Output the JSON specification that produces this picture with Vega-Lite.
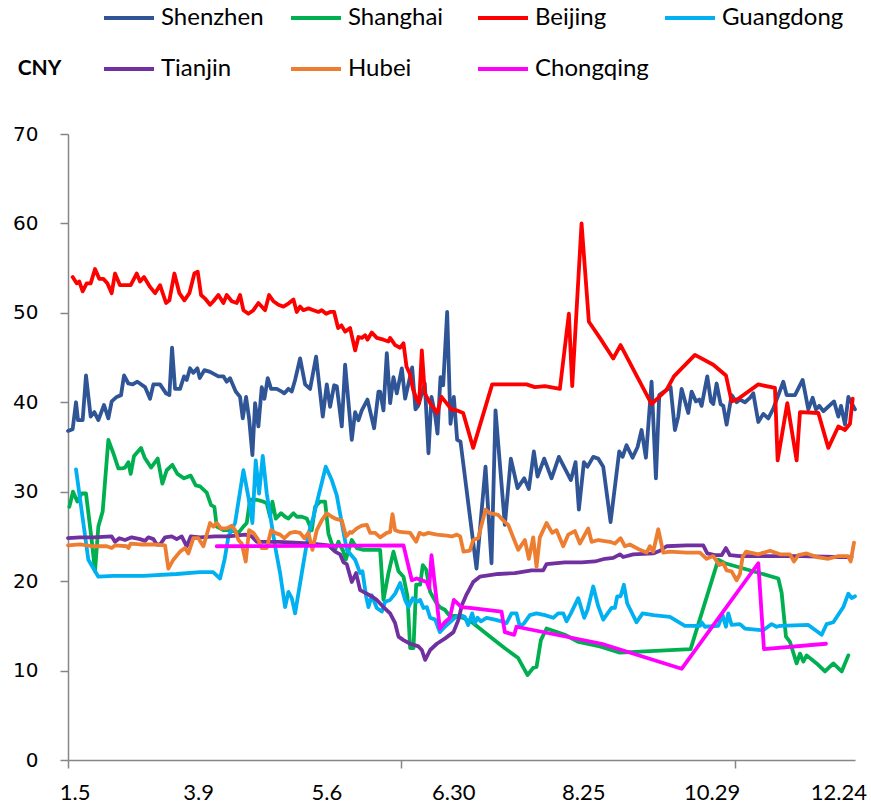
{
"$schema": "https://vega.github.io/schema/vega-lite/v6.json",
"width": 787, "height": 626,
"autosize": {"type": "none"},
"padding": {"left": 68, "top": 134, "right": 16, "bottom": 50},
"background": "white",
"config": {"view": {"stroke": null}, "font": "Lato"},
"data": {"values": [
{"c":"Shenzhen","t":0,"v":36.8},{"c":"Shenzhen","t":1.4,"v":37.0},{"c":"Shenzhen","t":2.4,"v":40.0},{"c":"Shenzhen","t":3,"v":38.0},{"c":"Shenzhen","t":4.4,"v":38.0},{"c":"Shenzhen","t":5.4,"v":43.0},{"c":"Shenzhen","t":6.8,"v":38.4},{"c":"Shenzhen","t":7.9,"v":38.9},{"c":"Shenzhen","t":9.1,"v":38.0},{"c":"Shenzhen","t":10.8,"v":39.7},{"c":"Shenzhen","t":12.1,"v":38.2},{"c":"Shenzhen","t":13.1,"v":40.1},{"c":"Shenzhen","t":14.6,"v":40.6},{"c":"Shenzhen","t":15.9,"v":40.8},{"c":"Shenzhen","t":16.8,"v":43.0},{"c":"Shenzhen","t":18.1,"v":42.1},{"c":"Shenzhen","t":19.4,"v":42.0},{"c":"Shenzhen","t":20.8,"v":42.3},{"c":"Shenzhen","t":23.1,"v":41.7},{"c":"Shenzhen","t":24.6,"v":40.4},{"c":"Shenzhen","t":25.6,"v":42.0},{"c":"Shenzhen","t":27.6,"v":42.0},{"c":"Shenzhen","t":29.4,"v":41.0},{"c":"Shenzhen","t":30.4,"v":40.8},{"c":"Shenzhen","t":31.2,"v":46.1},{"c":"Shenzhen","t":32.1,"v":41.5},{"c":"Shenzhen","t":33.6,"v":41.5},{"c":"Shenzhen","t":34.8,"v":42.9},{"c":"Shenzhen","t":35.6,"v":42.5},{"c":"Shenzhen","t":36.6,"v":43.8},{"c":"Shenzhen","t":37.6,"v":43.3},{"c":"Shenzhen","t":38.8,"v":43.8},{"c":"Shenzhen","t":39.5,"v":42.7},{"c":"Shenzhen","t":40.9,"v":43.6},{"c":"Shenzhen","t":42.6,"v":43.4},{"c":"Shenzhen","t":45.1,"v":42.9},{"c":"Shenzhen","t":46.6,"v":42.9},{"c":"Shenzhen","t":47.6,"v":42.3},{"c":"Shenzhen","t":48.6,"v":42.7},{"c":"Shenzhen","t":50.3,"v":41.2},{"c":"Shenzhen","t":51.6,"v":40.6},{"c":"Shenzhen","t":52.4,"v":38.2},{"c":"Shenzhen","t":53.4,"v":40.6},{"c":"Shenzhen","t":54.3,"v":38.2},{"c":"Shenzhen","t":55.3,"v":34.1},{"c":"Shenzhen","t":56.1,"v":39.9},{"c":"Shenzhen","t":57.1,"v":37.3},{"c":"Shenzhen","t":58.1,"v":41.7},{"c":"Shenzhen","t":58.9,"v":40.4},{"c":"Shenzhen","t":59.9,"v":42.7},{"c":"Shenzhen","t":60.9,"v":41.5},{"c":"Shenzhen","t":62.6,"v":41.5},{"c":"Shenzhen","t":64.1,"v":41.2},{"c":"Shenzhen","t":64.9,"v":41.0},{"c":"Shenzhen","t":66.1,"v":41.5},{"c":"Shenzhen","t":67.1,"v":41.2},{"c":"Shenzhen","t":68.1,"v":42.5},{"c":"Shenzhen","t":69.6,"v":44.9},{"c":"Shenzhen","t":71.1,"v":42.0},{"c":"Shenzhen","t":72.6,"v":41.5},{"c":"Shenzhen","t":74.4,"v":45.1},{"c":"Shenzhen","t":76.4,"v":38.4},{"c":"Shenzhen","t":77.6,"v":42.0},{"c":"Shenzhen","t":78.6,"v":39.5},{"c":"Shenzhen","t":79.8,"v":41.9},{"c":"Shenzhen","t":80.6,"v":41.8},{"c":"Shenzhen","t":82.1,"v":37.3},{"c":"Shenzhen","t":83.1,"v":44.2},{"c":"Shenzhen","t":85.1,"v":35.8},{"c":"Shenzhen","t":86.1,"v":38.9},{"c":"Shenzhen","t":87.1,"v":38.0},{"c":"Shenzhen","t":88.1,"v":39.1},{"c":"Shenzhen","t":89.8,"v":40.3},{"c":"Shenzhen","t":91.8,"v":37.1},{"c":"Shenzhen","t":93.1,"v":41.2},{"c":"Shenzhen","t":93.6,"v":41.2},{"c":"Shenzhen","t":94.6,"v":39.1},{"c":"Shenzhen","t":95.6,"v":45.5},{"c":"Shenzhen","t":96.6,"v":39.9},{"c":"Shenzhen","t":97.6,"v":42.8},{"c":"Shenzhen","t":98.6,"v":41.0},{"c":"Shenzhen","t":100.1,"v":43.8},{"c":"Shenzhen","t":101.1,"v":40.4},{"c":"Shenzhen","t":103.2,"v":43.9},{"c":"Shenzhen","t":104.2,"v":39.2},{"c":"Shenzhen","t":105,"v":39.6},{"c":"Shenzhen","t":107,"v":42.1},{"c":"Shenzhen","t":108.1,"v":34.3},{"c":"Shenzhen","t":109,"v":40.6},{"c":"Shenzhen","t":110,"v":38.8},{"c":"Shenzhen","t":110.8,"v":36.5},{"c":"Shenzhen","t":111.7,"v":42.8},{"c":"Shenzhen","t":112.5,"v":41.9},{"c":"Shenzhen","t":113.7,"v":50.1},{"c":"Shenzhen","t":114.7,"v":37.6},{"c":"Shenzhen","t":115.7,"v":40.6},{"c":"Shenzhen","t":116.7,"v":35.8},{"c":"Shenzhen","t":117.7,"v":35.6},{"c":"Shenzhen","t":122.5,"v":21.4},{"c":"Shenzhen","t":125.2,"v":32.8},{"c":"Shenzhen","t":127,"v":22.0},{"c":"Shenzhen","t":128.2,"v":39.1},{"c":"Shenzhen","t":131,"v":26.3},{"c":"Shenzhen","t":132.8,"v":33.7},{"c":"Shenzhen","t":134.8,"v":30.4},{"c":"Shenzhen","t":136.8,"v":31.5},{"c":"Shenzhen","t":138.2,"v":30.3},{"c":"Shenzhen","t":139.7,"v":34.5},{"c":"Shenzhen","t":140.8,"v":31.7},{"c":"Shenzhen","t":142.8,"v":33.7},{"c":"Shenzhen","t":145,"v":31.5},{"c":"Shenzhen","t":147.2,"v":33.9},{"c":"Shenzhen","t":150.8,"v":31.3},{"c":"Shenzhen","t":152.2,"v":33.3},{"c":"Shenzhen","t":153.2,"v":28.0},{"c":"Shenzhen","t":154.7,"v":33.3},{"c":"Shenzhen","t":155.8,"v":32.8},{"c":"Shenzhen","t":157.5,"v":33.9},{"c":"Shenzhen","t":159,"v":33.7},{"c":"Shenzhen","t":160.5,"v":32.8},{"c":"Shenzhen","t":162.7,"v":26.6},{"c":"Shenzhen","t":165.3,"v":34.5},{"c":"Shenzhen","t":166.3,"v":33.9},{"c":"Shenzhen","t":167.5,"v":35.2},{"c":"Shenzhen","t":169.3,"v":33.8},{"c":"Shenzhen","t":170.8,"v":35.0},{"c":"Shenzhen","t":172,"v":36.9},{"c":"Shenzhen","t":173.3,"v":33.8},{"c":"Shenzhen","t":175,"v":42.3},{"c":"Shenzhen","t":176.3,"v":31.5},{"c":"Shenzhen","t":177.3,"v":40.8},{"c":"Shenzhen","t":179.5,"v":41.4},{"c":"Shenzhen","t":180.7,"v":41.7},{"c":"Shenzhen","t":182,"v":36.9},{"c":"Shenzhen","t":183,"v":38.4},{"c":"Shenzhen","t":184,"v":41.5},{"c":"Shenzhen","t":186,"v":38.8},{"c":"Shenzhen","t":187,"v":41.2},{"c":"Shenzhen","t":188.3,"v":40.1},{"c":"Shenzhen","t":189.3,"v":40.3},{"c":"Shenzhen","t":190,"v":39.6},{"c":"Shenzhen","t":191.7,"v":42.9},{"c":"Shenzhen","t":192.8,"v":40.1},{"c":"Shenzhen","t":193.5,"v":39.8},{"c":"Shenzhen","t":194.5,"v":42.1},{"c":"Shenzhen","t":195.7,"v":39.8},{"c":"Shenzhen","t":196.5,"v":39.6},{"c":"Shenzhen","t":197.5,"v":37.5},{"c":"Shenzhen","t":199,"v":40.8},{"c":"Shenzhen","t":200.5,"v":40.0},{"c":"Shenzhen","t":201.5,"v":40.3},{"c":"Shenzhen","t":203,"v":40.0},{"c":"Shenzhen","t":204.5,"v":40.5},{"c":"Shenzhen","t":205.5,"v":41.0},{"c":"Shenzhen","t":207,"v":37.8},{"c":"Shenzhen","t":208.5,"v":38.7},{"c":"Shenzhen","t":210,"v":38.2},{"c":"Shenzhen","t":211.5,"v":39.3},{"c":"Shenzhen","t":214.5,"v":42.3},{"c":"Shenzhen","t":215.5,"v":40.8},{"c":"Shenzhen","t":218,"v":40.8},{"c":"Shenzhen","t":220.3,"v":42.5},{"c":"Shenzhen","t":222,"v":39.2},{"c":"Shenzhen","t":223.3,"v":40.5},{"c":"Shenzhen","t":224.3,"v":39.2},{"c":"Shenzhen","t":225.3,"v":39.6},{"c":"Shenzhen","t":226.5,"v":39.0},{"c":"Shenzhen","t":229.7,"v":40.1},{"c":"Shenzhen","t":231,"v":38.4},{"c":"Shenzhen","t":231.8,"v":39.6},{"c":"Shenzhen","t":233,"v":37.5},{"c":"Shenzhen","t":234,"v":40.6},{"c":"Shenzhen","t":236,"v":39.2},
{"c":"Shanghai","t":0.4,"v":28.3},{"c":"Shanghai","t":1.5,"v":30.0},{"c":"Shanghai","t":2.8,"v":28.9},{"c":"Shanghai","t":4.1,"v":29.8},{"c":"Shanghai","t":5.4,"v":29.8},{"c":"Shanghai","t":7.1,"v":24.6},{"c":"Shanghai","t":8.1,"v":21.1},{"c":"Shanghai","t":9.1,"v":26.1},{"c":"Shanghai","t":10.4,"v":27.8},{"c":"Shanghai","t":12.1,"v":35.8},{"c":"Shanghai","t":13.6,"v":34.3},{"c":"Shanghai","t":15.1,"v":32.6},{"c":"Shanghai","t":16.1,"v":32.6},{"c":"Shanghai","t":17.1,"v":32.7},{"c":"Shanghai","t":18.1,"v":33.3},{"c":"Shanghai","t":18.8,"v":32.0},{"c":"Shanghai","t":19.8,"v":34.0},{"c":"Shanghai","t":21.9,"v":34.9},{"c":"Shanghai","t":23,"v":33.8},{"c":"Shanghai","t":24.9,"v":32.7},{"c":"Shanghai","t":26.9,"v":33.7},{"c":"Shanghai","t":28.3,"v":30.9},{"c":"Shanghai","t":29.6,"v":32.4},{"c":"Shanghai","t":31.3,"v":33.0},{"c":"Shanghai","t":32.8,"v":32.0},{"c":"Shanghai","t":34.8,"v":31.5},{"c":"Shanghai","t":36.8,"v":31.8},{"c":"Shanghai","t":38.3,"v":30.7},{"c":"Shanghai","t":39.6,"v":30.6},{"c":"Shanghai","t":41.6,"v":29.9},{"c":"Shanghai","t":42.9,"v":28.5},{"c":"Shanghai","t":43.9,"v":28.3},{"c":"Shanghai","t":44.6,"v":26.1},{"c":"Shanghai","t":46.6,"v":25.7},{"c":"Shanghai","t":48.1,"v":25.7},{"c":"Shanghai","t":49.6,"v":25.6},{"c":"Shanghai","t":51.1,"v":25.4},{"c":"Shanghai","t":52.6,"v":26.1},{"c":"Shanghai","t":53.6,"v":26.5},{"c":"Shanghai","t":54.6,"v":29.1},{"c":"Shanghai","t":56.6,"v":29.1},{"c":"Shanghai","t":58.6,"v":28.9},{"c":"Shanghai","t":59.6,"v":28.7},{"c":"Shanghai","t":60.6,"v":27.2},{"c":"Shanghai","t":61.3,"v":28.9},{"c":"Shanghai","t":62.3,"v":27.0},{"c":"Shanghai","t":63.9,"v":27.6},{"c":"Shanghai","t":65.1,"v":27.2},{"c":"Shanghai","t":66.1,"v":27.0},{"c":"Shanghai","t":67.6,"v":27.6},{"c":"Shanghai","t":68.6,"v":27.2},{"c":"Shanghai","t":70.1,"v":27.2},{"c":"Shanghai","t":71.6,"v":27.0},{"c":"Shanghai","t":73.1,"v":25.7},{"c":"Shanghai","t":74.1,"v":28.3},{"c":"Shanghai","t":75.6,"v":28.9},{"c":"Shanghai","t":77.1,"v":28.9},{"c":"Shanghai","t":78.1,"v":25.3},{"c":"Shanghai","t":79.1,"v":24.2},{"c":"Shanghai","t":80.1,"v":23.5},{"c":"Shanghai","t":81.1,"v":24.4},{"c":"Shanghai","t":82.6,"v":23.3},{"c":"Shanghai","t":83.3,"v":22.4},{"c":"Shanghai","t":85.1,"v":24.6},{"c":"Shanghai","t":86.6,"v":23.7},{"c":"Shanghai","t":88.6,"v":23.5},{"c":"Shanghai","t":93.6,"v":23.5},{"c":"Shanghai","t":94.6,"v":17.9},{"c":"Shanghai","t":96.1,"v":20.9},{"c":"Shanghai","t":97.6,"v":23.3},{"c":"Shanghai","t":99.1,"v":21.1},{"c":"Shanghai","t":100.6,"v":20.5},{"c":"Shanghai","t":101.8,"v":18.3},{"c":"Shanghai","t":102.6,"v":12.5},{"c":"Shanghai","t":103.6,"v":12.5},{"c":"Shanghai","t":104.4,"v":19.6},{"c":"Shanghai","t":105.6,"v":19.6},{"c":"Shanghai","t":106.4,"v":21.8},{"c":"Shanghai","t":107.4,"v":21.3},{"c":"Shanghai","t":108.6,"v":18.8},{"c":"Shanghai","t":110.4,"v":17.6},{"c":"Shanghai","t":111.5,"v":17.1},{"c":"Shanghai","t":113,"v":16.8},{"c":"Shanghai","t":114.5,"v":16.1},{"c":"Shanghai","t":116.5,"v":16.1},{"c":"Shanghai","t":118.5,"v":15.9},{"c":"Shanghai","t":121.5,"v":15.3},{"c":"Shanghai","t":126.5,"v":13.8},{"c":"Shanghai","t":131,"v":12.5},{"c":"Shanghai","t":135,"v":11.4},{"c":"Shanghai","t":137.8,"v":9.5},{"c":"Shanghai","t":139.5,"v":10.3},{"c":"Shanghai","t":140.5,"v":10.4},{"c":"Shanghai","t":141.8,"v":13.4},{"c":"Shanghai","t":143.5,"v":14.7},{"c":"Shanghai","t":149,"v":14.0},{"c":"Shanghai","t":153.1,"v":13.2},{"c":"Shanghai","t":159.5,"v":12.7},{"c":"Shanghai","t":165.5,"v":12.0},{"c":"Shanghai","t":186.7,"v":12.4},{"c":"Shanghai","t":195,"v":22.4},{"c":"Shanghai","t":197,"v":22.0},{"c":"Shanghai","t":213,"v":20.3},{"c":"Shanghai","t":214,"v":18.7},{"c":"Shanghai","t":215.3,"v":13.8},{"c":"Shanghai","t":216.5,"v":13.2},{"c":"Shanghai","t":218.5,"v":10.8},{"c":"Shanghai","t":219.5,"v":11.9},{"c":"Shanghai","t":220.5,"v":11.0},{"c":"Shanghai","t":221.5,"v":11.7},{"c":"Shanghai","t":224.5,"v":10.8},{"c":"Shanghai","t":227,"v":9.9},{"c":"Shanghai","t":229.5,"v":10.8},{"c":"Shanghai","t":232,"v":9.9},{"c":"Shanghai","t":234,"v":11.7},
{"c":"Beijing","t":1.4,"v":54.0},{"c":"Beijing","t":2.6,"v":53.3},{"c":"Beijing","t":3.4,"v":53.5},{"c":"Beijing","t":4.4,"v":52.4},{"c":"Beijing","t":5.6,"v":53.3},{"c":"Beijing","t":6.8,"v":53.3},{"c":"Beijing","t":8.1,"v":54.9},{"c":"Beijing","t":9.4,"v":53.8},{"c":"Beijing","t":10.6,"v":53.8},{"c":"Beijing","t":11.8,"v":53.3},{"c":"Beijing","t":13.1,"v":52.2},{"c":"Beijing","t":14.1,"v":54.4},{"c":"Beijing","t":15.6,"v":53.1},{"c":"Beijing","t":18.8,"v":53.1},{"c":"Beijing","t":20.6,"v":54.4},{"c":"Beijing","t":21.6,"v":53.5},{"c":"Beijing","t":22.8,"v":54.0},{"c":"Beijing","t":24.6,"v":52.9},{"c":"Beijing","t":26.1,"v":52.2},{"c":"Beijing","t":27.6,"v":53.1},{"c":"Beijing","t":29.4,"v":51.1},{"c":"Beijing","t":30.4,"v":51.4},{"c":"Beijing","t":31.9,"v":54.4},{"c":"Beijing","t":33.4,"v":52.2},{"c":"Beijing","t":34.9,"v":51.4},{"c":"Beijing","t":36.4,"v":52.2},{"c":"Beijing","t":37.9,"v":54.4},{"c":"Beijing","t":38.9,"v":54.6},{"c":"Beijing","t":39.9,"v":52.0},{"c":"Beijing","t":41.1,"v":51.6},{"c":"Beijing","t":42.6,"v":50.9},{"c":"Beijing","t":43.6,"v":51.3},{"c":"Beijing","t":45.1,"v":52.0},{"c":"Beijing","t":46.6,"v":51.1},{"c":"Beijing","t":47.6,"v":52.0},{"c":"Beijing","t":49.1,"v":51.3},{"c":"Beijing","t":50.6,"v":51.1},{"c":"Beijing","t":51.6,"v":52.0},{"c":"Beijing","t":52.6,"v":50.3},{"c":"Beijing","t":54.1,"v":49.9},{"c":"Beijing","t":55.6,"v":50.3},{"c":"Beijing","t":57.1,"v":51.1},{"c":"Beijing","t":59.1,"v":50.3},{"c":"Beijing","t":60.3,"v":52.0},{"c":"Beijing","t":61.6,"v":51.3},{"c":"Beijing","t":63.1,"v":50.9},{"c":"Beijing","t":64.6,"v":50.7},{"c":"Beijing","t":66.3,"v":51.1},{"c":"Beijing","t":67.6,"v":51.5},{"c":"Beijing","t":68.6,"v":50.1},{"c":"Beijing","t":69.6,"v":50.7},{"c":"Beijing","t":70.6,"v":50.3},{"c":"Beijing","t":72.1,"v":50.5},{"c":"Beijing","t":73.6,"v":50.3},{"c":"Beijing","t":75.1,"v":50.1},{"c":"Beijing","t":76.1,"v":50.3},{"c":"Beijing","t":77.4,"v":49.9},{"c":"Beijing","t":78.6,"v":50.1},{"c":"Beijing","t":79.8,"v":50.1},{"c":"Beijing","t":81,"v":48.3},{"c":"Beijing","t":82,"v":48.6},{"c":"Beijing","t":83.1,"v":47.9},{"c":"Beijing","t":84.6,"v":48.3},{"c":"Beijing","t":86.1,"v":45.8},{"c":"Beijing","t":87.1,"v":47.3},{"c":"Beijing","t":88.1,"v":47.2},{"c":"Beijing","t":89.1,"v":47.5},{"c":"Beijing","t":89.8,"v":47.0},{"c":"Beijing","t":91.1,"v":47.8},{"c":"Beijing","t":92.6,"v":47.2},{"c":"Beijing","t":94.6,"v":47.0},{"c":"Beijing","t":96.1,"v":46.8},{"c":"Beijing","t":96.6,"v":47.2},{"c":"Beijing","t":98.1,"v":46.4},{"c":"Beijing","t":99.6,"v":46.1},{"c":"Beijing","t":100.6,"v":46.6},{"c":"Beijing","t":101.5,"v":44.0},{"c":"Beijing","t":102.5,"v":43.2},{"c":"Beijing","t":103.5,"v":41.4},{"c":"Beijing","t":104.5,"v":40.4},{"c":"Beijing","t":105.3,"v":39.9},{"c":"Beijing","t":106.1,"v":45.8},{"c":"Beijing","t":107,"v":41.0},{"c":"Beijing","t":108.6,"v":39.9},{"c":"Beijing","t":110.7,"v":38.8},{"c":"Beijing","t":112,"v":40.6},{"c":"Beijing","t":113.5,"v":39.9},{"c":"Beijing","t":115,"v":39.2},{"c":"Beijing","t":116.5,"v":39.1},{"c":"Beijing","t":118.5,"v":38.8},{"c":"Beijing","t":121.5,"v":34.9},{"c":"Beijing","t":127.2,"v":42.0},{"c":"Beijing","t":137.5,"v":42.0},{"c":"Beijing","t":140,"v":41.7},{"c":"Beijing","t":143,"v":41.8},{"c":"Beijing","t":147.5,"v":41.5},{"c":"Beijing","t":150.2,"v":49.9},{"c":"Beijing","t":151.2,"v":41.8},{"c":"Beijing","t":154,"v":60.0},{"c":"Beijing","t":156.2,"v":49.0},{"c":"Beijing","t":159.5,"v":47.2},{"c":"Beijing","t":163.5,"v":44.9},{"c":"Beijing","t":165.7,"v":46.4},{"c":"Beijing","t":175,"v":39.8},{"c":"Beijing","t":179.5,"v":41.4},{"c":"Beijing","t":181.7,"v":42.9},{"c":"Beijing","t":188,"v":45.3},{"c":"Beijing","t":193.5,"v":44.2},{"c":"Beijing","t":197.3,"v":43.0},{"c":"Beijing","t":199,"v":40.1},{"c":"Beijing","t":201,"v":40.4},{"c":"Beijing","t":207,"v":42.0},{"c":"Beijing","t":212,"v":41.6},{"c":"Beijing","t":212.8,"v":33.5},{"c":"Beijing","t":215.7,"v":39.9},{"c":"Beijing","t":218.5,"v":33.5},{"c":"Beijing","t":219.5,"v":38.9},{"c":"Beijing","t":225,"v":38.8},{"c":"Beijing","t":228,"v":34.9},{"c":"Beijing","t":231,"v":37.3},{"c":"Beijing","t":233,"v":36.9},{"c":"Beijing","t":234.5,"v":37.6},{"c":"Beijing","t":235.3,"v":40.4},
{"c":"Guangdong","t":2.4,"v":32.5},{"c":"Guangdong","t":6.1,"v":22.4},{"c":"Guangdong","t":9.1,"v":20.5},{"c":"Guangdong","t":13.6,"v":20.6},{"c":"Guangdong","t":22.6,"v":20.6},{"c":"Guangdong","t":32.6,"v":20.8},{"c":"Guangdong","t":39.6,"v":21.0},{"c":"Guangdong","t":43.5,"v":21.0},{"c":"Guangdong","t":45.6,"v":20.3},{"c":"Guangdong","t":47,"v":22.5},{"c":"Guangdong","t":48.1,"v":25.0},{"c":"Guangdong","t":50.1,"v":26.5},{"c":"Guangdong","t":52.6,"v":32.4},{"c":"Guangdong","t":54.1,"v":29.4},{"c":"Guangdong","t":55.3,"v":26.5},{"c":"Guangdong","t":56.3,"v":33.5},{"c":"Guangdong","t":57.3,"v":29.8},{"c":"Guangdong","t":58.4,"v":34.0},{"c":"Guangdong","t":59.6,"v":29.8},{"c":"Guangdong","t":62.1,"v":23.9},{"c":"Guangdong","t":63.6,"v":20.9},{"c":"Guangdong","t":65.1,"v":17.1},{"c":"Guangdong","t":66.1,"v":18.8},{"c":"Guangdong","t":67.1,"v":18.1},{"c":"Guangdong","t":68.1,"v":16.4},{"c":"Guangdong","t":70.1,"v":20.9},{"c":"Guangdong","t":72.1,"v":25.3},{"c":"Guangdong","t":73.6,"v":27.2},{"c":"Guangdong","t":75.3,"v":29.8},{"c":"Guangdong","t":77.3,"v":32.8},{"c":"Guangdong","t":79.1,"v":31.3},{"c":"Guangdong","t":80.6,"v":29.6},{"c":"Guangdong","t":82.1,"v":26.5},{"c":"Guangdong","t":83.6,"v":23.5},{"c":"Guangdong","t":86.1,"v":22.4},{"c":"Guangdong","t":87.6,"v":20.9},{"c":"Guangdong","t":88.3,"v":21.1},{"c":"Guangdong","t":89.4,"v":18.3},{"c":"Guangdong","t":90.1,"v":17.1},{"c":"Guangdong","t":91.1,"v":18.4},{"c":"Guangdong","t":92.6,"v":17.0},{"c":"Guangdong","t":94.1,"v":16.6},{"c":"Guangdong","t":95.1,"v":17.7},{"c":"Guangdong","t":96.6,"v":17.9},{"c":"Guangdong","t":98.1,"v":18.6},{"c":"Guangdong","t":99.6,"v":19.8},{"c":"Guangdong","t":101.1,"v":17.9},{"c":"Guangdong","t":102.1,"v":17.1},{"c":"Guangdong","t":103.4,"v":18.1},{"c":"Guangdong","t":104.6,"v":17.7},{"c":"Guangdong","t":105.6,"v":17.9},{"c":"Guangdong","t":106.6,"v":17.0},{"c":"Guangdong","t":107.6,"v":17.1},{"c":"Guangdong","t":108.6,"v":15.9},{"c":"Guangdong","t":110.1,"v":15.7},{"c":"Guangdong","t":111.5,"v":14.3},{"c":"Guangdong","t":113,"v":14.9},{"c":"Guangdong","t":114.5,"v":15.4},{"c":"Guangdong","t":116,"v":15.9},{"c":"Guangdong","t":117.5,"v":16.2},{"c":"Guangdong","t":119,"v":16.0},{"c":"Guangdong","t":120,"v":15.1},{"c":"Guangdong","t":121.2,"v":16.4},{"c":"Guangdong","t":122,"v":15.3},{"c":"Guangdong","t":122.8,"v":15.9},{"c":"Guangdong","t":123.8,"v":15.5},{"c":"Guangdong","t":125.5,"v":15.9},{"c":"Guangdong","t":128,"v":15.7},{"c":"Guangdong","t":130,"v":15.5},{"c":"Guangdong","t":131.5,"v":15.3},{"c":"Guangdong","t":133,"v":16.4},{"c":"Guangdong","t":134.5,"v":16.4},{"c":"Guangdong","t":135.5,"v":14.9},{"c":"Guangdong","t":136.8,"v":15.3},{"c":"Guangdong","t":138.5,"v":16.2},{"c":"Guangdong","t":140.5,"v":16.4},{"c":"Guangdong","t":143,"v":16.2},{"c":"Guangdong","t":145.5,"v":15.9},{"c":"Guangdong","t":147,"v":16.4},{"c":"Guangdong","t":148.5,"v":16.4},{"c":"Guangdong","t":149.5,"v":15.5},{"c":"Guangdong","t":150.8,"v":16.4},{"c":"Guangdong","t":153,"v":18.1},{"c":"Guangdong","t":154.8,"v":15.9},{"c":"Guangdong","t":155.8,"v":16.8},{"c":"Guangdong","t":157.5,"v":19.4},{"c":"Guangdong","t":159,"v":17.2},{"c":"Guangdong","t":160.5,"v":15.7},{"c":"Guangdong","t":163,"v":17.0},{"c":"Guangdong","t":164,"v":17.0},{"c":"Guangdong","t":164.7,"v":18.3},{"c":"Guangdong","t":165.7,"v":18.3},{"c":"Guangdong","t":166.7,"v":19.6},{"c":"Guangdong","t":167.7,"v":17.5},{"c":"Guangdong","t":170.5,"v":15.4},{"c":"Guangdong","t":172.3,"v":16.4},{"c":"Guangdong","t":175.5,"v":16.2},{"c":"Guangdong","t":180.5,"v":16.0},{"c":"Guangdong","t":185,"v":15.0},{"c":"Guangdong","t":189.5,"v":15.0},{"c":"Guangdong","t":190,"v":15.4},{"c":"Guangdong","t":191,"v":14.9},{"c":"Guangdong","t":195,"v":15.0},{"c":"Guangdong","t":196.3,"v":16.2},{"c":"Guangdong","t":197.3,"v":14.9},{"c":"Guangdong","t":198,"v":16.4},{"c":"Guangdong","t":199,"v":15.1},{"c":"Guangdong","t":201.5,"v":15.2},{"c":"Guangdong","t":203,"v":14.7},{"c":"Guangdong","t":208.5,"v":14.5},{"c":"Guangdong","t":211,"v":15.2},{"c":"Guangdong","t":212.5,"v":14.9},{"c":"Guangdong","t":213.5,"v":15.0},{"c":"Guangdong","t":222,"v":15.1},{"c":"Guangdong","t":226,"v":14.0},{"c":"Guangdong","t":227.5,"v":15.2},{"c":"Guangdong","t":229.5,"v":15.4},{"c":"Guangdong","t":232.5,"v":17.1},{"c":"Guangdong","t":234,"v":18.6},{"c":"Guangdong","t":235,"v":18.1},{"c":"Guangdong","t":236,"v":18.3},
{"c":"Tianjin","t":0,"v":24.8},{"c":"Tianjin","t":3.6,"v":24.9},{"c":"Tianjin","t":7.6,"v":24.9},{"c":"Tianjin","t":13.1,"v":25.0},{"c":"Tianjin","t":14.1,"v":24.4},{"c":"Tianjin","t":15.4,"v":24.8},{"c":"Tianjin","t":17.1,"v":24.6},{"c":"Tianjin","t":19.1,"v":24.9},{"c":"Tianjin","t":21.6,"v":24.7},{"c":"Tianjin","t":23.1,"v":24.5},{"c":"Tianjin","t":24.1,"v":24.9},{"c":"Tianjin","t":25.6,"v":24.7},{"c":"Tianjin","t":26.6,"v":24.1},{"c":"Tianjin","t":27.6,"v":24.1},{"c":"Tianjin","t":29.1,"v":24.9},{"c":"Tianjin","t":31.1,"v":25.0},{"c":"Tianjin","t":32.6,"v":24.7},{"c":"Tianjin","t":34.1,"v":25.0},{"c":"Tianjin","t":35.6,"v":23.9},{"c":"Tianjin","t":36.8,"v":25.0},{"c":"Tianjin","t":39.6,"v":24.9},{"c":"Tianjin","t":44.1,"v":25.0},{"c":"Tianjin","t":48.1,"v":25.0},{"c":"Tianjin","t":53.1,"v":25.2},{"c":"Tianjin","t":55.1,"v":25.0},{"c":"Tianjin","t":56.6,"v":24.4},{"c":"Tianjin","t":63.1,"v":24.4},{"c":"Tianjin","t":68.1,"v":24.3},{"c":"Tianjin","t":73.1,"v":24.2},{"c":"Tianjin","t":78.1,"v":24.0},{"c":"Tianjin","t":80.1,"v":23.3},{"c":"Tianjin","t":81.6,"v":23.0},{"c":"Tianjin","t":82.6,"v":22.1},{"c":"Tianjin","t":83.6,"v":21.9},{"c":"Tianjin","t":85.1,"v":19.9},{"c":"Tianjin","t":86.4,"v":20.9},{"c":"Tianjin","t":87.6,"v":19.0},{"c":"Tianjin","t":88.6,"v":18.8},{"c":"Tianjin","t":90.6,"v":18.4},{"c":"Tianjin","t":92.6,"v":17.9},{"c":"Tianjin","t":94.6,"v":17.1},{"c":"Tianjin","t":96.6,"v":16.4},{"c":"Tianjin","t":98.1,"v":15.3},{"c":"Tianjin","t":99.1,"v":13.8},{"c":"Tianjin","t":100.6,"v":13.4},{"c":"Tianjin","t":102.6,"v":13.0},{"c":"Tianjin","t":105.1,"v":12.7},{"c":"Tianjin","t":106.1,"v":12.3},{"c":"Tianjin","t":107.1,"v":11.2},{"c":"Tianjin","t":108.6,"v":12.3},{"c":"Tianjin","t":110.6,"v":13.0},{"c":"Tianjin","t":113.1,"v":13.6},{"c":"Tianjin","t":115.6,"v":14.3},{"c":"Tianjin","t":117.1,"v":15.7},{"c":"Tianjin","t":118.1,"v":17.3},{"c":"Tianjin","t":119.5,"v":18.5},{"c":"Tianjin","t":120.5,"v":19.2},{"c":"Tianjin","t":121.5,"v":19.9},{"c":"Tianjin","t":123.5,"v":20.5},{"c":"Tianjin","t":129,"v":20.8},{"c":"Tianjin","t":134,"v":20.9},{"c":"Tianjin","t":139,"v":21.2},{"c":"Tianjin","t":142.5,"v":21.2},{"c":"Tianjin","t":143.5,"v":21.9},{"c":"Tianjin","t":149,"v":22.1},{"c":"Tianjin","t":154,"v":22.1},{"c":"Tianjin","t":158,"v":22.2},{"c":"Tianjin","t":161,"v":22.5},{"c":"Tianjin","t":163.5,"v":22.6},{"c":"Tianjin","t":165.5,"v":23.0},{"c":"Tianjin","t":166.5,"v":22.7},{"c":"Tianjin","t":169.5,"v":23.0},{"c":"Tianjin","t":175.5,"v":23.1},{"c":"Tianjin","t":177.5,"v":23.4},{"c":"Tianjin","t":179.5,"v":23.9},{"c":"Tianjin","t":185.5,"v":24.0},{"c":"Tianjin","t":190.5,"v":24.0},{"c":"Tianjin","t":191.7,"v":23.1},{"c":"Tianjin","t":194,"v":22.9},{"c":"Tianjin","t":196,"v":22.9},{"c":"Tianjin","t":197.3,"v":23.7},{"c":"Tianjin","t":198.5,"v":22.9},{"c":"Tianjin","t":201.5,"v":22.8},{"c":"Tianjin","t":210,"v":22.8},{"c":"Tianjin","t":220,"v":22.8},{"c":"Tianjin","t":230,"v":22.7},{"c":"Tianjin","t":235,"v":22.7},
{"c":"Hubei","t":0,"v":24.0},{"c":"Hubei","t":3.6,"v":24.1},{"c":"Hubei","t":7.6,"v":23.9},{"c":"Hubei","t":11.6,"v":23.9},{"c":"Hubei","t":13.1,"v":23.7},{"c":"Hubei","t":14.1,"v":24.0},{"c":"Hubei","t":17.6,"v":23.9},{"c":"Hubei","t":18.1,"v":23.7},{"c":"Hubei","t":18.8,"v":24.2},{"c":"Hubei","t":21.6,"v":24.1},{"c":"Hubei","t":25.6,"v":24.1},{"c":"Hubei","t":29.1,"v":24.0},{"c":"Hubei","t":30.1,"v":21.4},{"c":"Hubei","t":31.6,"v":22.4},{"c":"Hubei","t":33.6,"v":23.3},{"c":"Hubei","t":35.1,"v":23.7},{"c":"Hubei","t":36.1,"v":23.1},{"c":"Hubei","t":37.6,"v":24.8},{"c":"Hubei","t":39.1,"v":24.8},{"c":"Hubei","t":40.6,"v":23.9},{"c":"Hubei","t":42.6,"v":26.5},{"c":"Hubei","t":43.6,"v":26.1},{"c":"Hubei","t":44.6,"v":26.5},{"c":"Hubei","t":45.9,"v":25.9},{"c":"Hubei","t":47.6,"v":25.9},{"c":"Hubei","t":49.1,"v":26.2},{"c":"Hubei","t":50.1,"v":25.7},{"c":"Hubei","t":51.1,"v":24.6},{"c":"Hubei","t":52.1,"v":24.2},{"c":"Hubei","t":53.3,"v":22.2},{"c":"Hubei","t":54.3,"v":25.7},{"c":"Hubei","t":55.6,"v":25.4},{"c":"Hubei","t":57.1,"v":24.6},{"c":"Hubei","t":58.1,"v":23.7},{"c":"Hubei","t":59.6,"v":23.7},{"c":"Hubei","t":60.9,"v":25.7},{"c":"Hubei","t":62.1,"v":25.4},{"c":"Hubei","t":63.6,"v":25.2},{"c":"Hubei","t":64.9,"v":24.8},{"c":"Hubei","t":66.6,"v":25.4},{"c":"Hubei","t":68.1,"v":25.5},{"c":"Hubei","t":69.6,"v":25.4},{"c":"Hubei","t":70.9,"v":24.8},{"c":"Hubei","t":72.1,"v":25.4},{"c":"Hubei","t":73.3,"v":23.5},{"c":"Hubei","t":74.6,"v":25.7},{"c":"Hubei","t":76.1,"v":26.8},{"c":"Hubei","t":77.6,"v":27.6},{"c":"Hubei","t":79.1,"v":27.2},{"c":"Hubei","t":80.1,"v":27.0},{"c":"Hubei","t":82.1,"v":26.8},{"c":"Hubei","t":83.4,"v":25.0},{"c":"Hubei","t":84.6,"v":25.5},{"c":"Hubei","t":85.1,"v":25.4},{"c":"Hubei","t":86.6,"v":25.9},{"c":"Hubei","t":88.1,"v":26.2},{"c":"Hubei","t":89.6,"v":26.3},{"c":"Hubei","t":90.6,"v":25.4},{"c":"Hubei","t":92.1,"v":25.4},{"c":"Hubei","t":93.6,"v":24.9},{"c":"Hubei","t":95.6,"v":25.4},{"c":"Hubei","t":96.6,"v":25.5},{"c":"Hubei","t":97.3,"v":27.5},{"c":"Hubei","t":98.1,"v":25.7},{"c":"Hubei","t":99.6,"v":25.5},{"c":"Hubei","t":102.6,"v":25.4},{"c":"Hubei","t":104.4,"v":24.4},{"c":"Hubei","t":105.4,"v":25.4},{"c":"Hubei","t":106.6,"v":25.2},{"c":"Hubei","t":108.1,"v":25.4},{"c":"Hubei","t":110.6,"v":25.2},{"c":"Hubei","t":113.6,"v":25.1},{"c":"Hubei","t":115.1,"v":25.0},{"c":"Hubei","t":116.6,"v":25.2},{"c":"Hubei","t":117.6,"v":25.0},{"c":"Hubei","t":118.6,"v":23.3},{"c":"Hubei","t":120.5,"v":23.4},{"c":"Hubei","t":121.5,"v":24.6},{"c":"Hubei","t":123,"v":24.8},{"c":"Hubei","t":125.2,"v":28.0},{"c":"Hubei","t":126.5,"v":27.6},{"c":"Hubei","t":129,"v":27.4},{"c":"Hubei","t":130.5,"v":26.8},{"c":"Hubei","t":132,"v":26.3},{"c":"Hubei","t":135,"v":23.5},{"c":"Hubei","t":137,"v":24.6},{"c":"Hubei","t":138.2,"v":22.5},{"c":"Hubei","t":139.5,"v":24.9},{"c":"Hubei","t":140.5,"v":21.6},{"c":"Hubei","t":141.5,"v":24.9},{"c":"Hubei","t":143.5,"v":26.5},{"c":"Hubei","t":145.2,"v":25.4},{"c":"Hubei","t":146.5,"v":25.7},{"c":"Hubei","t":148.5,"v":23.9},{"c":"Hubei","t":150,"v":25.2},{"c":"Hubei","t":152,"v":25.6},{"c":"Hubei","t":153.5,"v":24.2},{"c":"Hubei","t":156,"v":25.9},{"c":"Hubei","t":157,"v":24.4},{"c":"Hubei","t":159,"v":24.6},{"c":"Hubei","t":160.5,"v":24.5},{"c":"Hubei","t":162.5,"v":24.4},{"c":"Hubei","t":164,"v":24.2},{"c":"Hubei","t":165.7,"v":24.8},{"c":"Hubei","t":167,"v":23.9},{"c":"Hubei","t":168.5,"v":24.1},{"c":"Hubei","t":171.5,"v":23.5},{"c":"Hubei","t":173.5,"v":23.2},{"c":"Hubei","t":174.5,"v":23.9},{"c":"Hubei","t":175.5,"v":23.3},{"c":"Hubei","t":177,"v":25.8},{"c":"Hubei","t":178.5,"v":23.2},{"c":"Hubei","t":180.5,"v":23.3},{"c":"Hubei","t":185.5,"v":23.2},{"c":"Hubei","t":189.5,"v":23.2},{"c":"Hubei","t":191.5,"v":22.5},{"c":"Hubei","t":193.5,"v":22.8},{"c":"Hubei","t":195.3,"v":21.8},{"c":"Hubei","t":196.5,"v":22.0},{"c":"Hubei","t":197.5,"v":21.2},{"c":"Hubei","t":199,"v":21.1},{"c":"Hubei","t":200.5,"v":20.1},{"c":"Hubei","t":201.5,"v":20.8},{"c":"Hubei","t":202.3,"v":22.7},{"c":"Hubei","t":203.3,"v":23.3},{"c":"Hubei","t":207,"v":23.0},{"c":"Hubei","t":210.5,"v":23.4},{"c":"Hubei","t":213.5,"v":23.0},{"c":"Hubei","t":216.5,"v":23.0},{"c":"Hubei","t":217.7,"v":22.2},{"c":"Hubei","t":219,"v":22.9},{"c":"Hubei","t":221.5,"v":23.1},{"c":"Hubei","t":224.5,"v":22.7},{"c":"Hubei","t":228,"v":22.5},{"c":"Hubei","t":231,"v":22.8},{"c":"Hubei","t":233.9,"v":22.8},{"c":"Hubei","t":234.7,"v":22.2},{"c":"Hubei","t":235.7,"v":24.3},
{"c":"Chongqing","t":44.6,"v":23.9},{"c":"Chongqing","t":100.6,"v":24.0},{"c":"Chongqing","t":103.1,"v":20.1},{"c":"Chongqing","t":104.6,"v":20.3},{"c":"Chongqing","t":107.6,"v":19.9},{"c":"Chongqing","t":108.3,"v":19.2},{"c":"Chongqing","t":109,"v":22.9},{"c":"Chongqing","t":111.5,"v":14.7},{"c":"Chongqing","t":113,"v":15.4},{"c":"Chongqing","t":114.5,"v":15.9},{"c":"Chongqing","t":115.7,"v":17.9},{"c":"Chongqing","t":118,"v":17.1},{"c":"Chongqing","t":120.5,"v":17.0},{"c":"Chongqing","t":130,"v":16.6},{"c":"Chongqing","t":131,"v":14.3},{"c":"Chongqing","t":133.8,"v":14.0},{"c":"Chongqing","t":134.5,"v":14.9},{"c":"Chongqing","t":160,"v":13.0},{"c":"Chongqing","t":184,"v":10.2},{"c":"Chongqing","t":207,"v":22.0},{"c":"Chongqing","t":208.7,"v":12.4},{"c":"Chongqing","t":227.3,"v":13.0}
]},
"mark": {"type": "line", "strokeWidth": 3.8, "strokeJoin": "round", "strokeCap": "round"},
"encoding": {
"x": {"field": "t", "type": "quantitative",
 "scale": {"domain": [0, 236], "nice": false, "zero": false},
 "axis": {"title": null, "grid": false,
  "values": [0, 2, 39, 77.5, 100, 115.5, 154.5, 193, 200, 231],
  "labelExpr": "datum.value == 2 ? '1.5' : datum.value == 39 ? '3.9' : datum.value == 77.5 ? '5.6' : datum.value == 115.5 ? '6.30' : datum.value == 154.5 ? '8.25' : datum.value == 193 ? '10.29' : datum.value == 231 ? '12.24' : ''",
  "tickOpacity": {"condition": {"test": "datum.value % 100 == 0", "value": 1}, "value": 0},
  "tickSize": 8, "tickWidth": 1.5, "tickColor": "#868686",
  "domainColor": "#868686", "domainWidth": 1.5,
  "labelFont": "Lato", "labelFontSize": 22, "labelColor": "#000000", "labelPadding": 14,
  "labelOverlap": false, "labelFlush": false, "labelBound": false}},
"y": {"field": "v", "type": "quantitative",
 "scale": {"domain": [0, 70], "nice": false},
 "axis": {"title": "CNY", "titleAngle": 0, "titleX": -29, "titleY": -66, "titleAlign": "center", "titleBaseline": "middle",
  "titleFont": "Lato", "titleFontWeight": "bold", "titleFontSize": 21, "titleColor": "#000000",
  "values": [0, 10, 20, 30, 40, 50, 60, 70], "grid": false,
  "tickSize": 8, "tickWidth": 1.5, "tickColor": "#868686",
  "domainColor": "#868686", "domainWidth": 1.5,
  "labelFont": "DejaVu Sans", "labelFontSize": 20, "labelColor": "#000000", "labelPadding": 22}},
"color": {"field": "c", "type": "nominal",
 "scale": {"domain": ["Shenzhen", "Shanghai", "Beijing", "Guangdong", "Tianjin", "Hubei", "Chongqing"],
  "range": ["#2F5597", "#00B050", "#FF0000", "#00B0F0", "#7030A0", "#ED7D31", "#FF00FF"]},
 "legend": {"title": null, "orient": "none", "legendX": 34, "legendY": -143, "direction": "horizontal", "columns": 4,
  "symbolType": "stroke", "symbolSize": 2500, "symbolStrokeWidth": 4, "labelFont": "Lato", "labelFontSize": 24,
  "labelColor": "#000000", "labelOffset": 5, "columnPadding": 0, "rowPadding": 12, "gridAlign": "all", "padding": 0}}
}
}
